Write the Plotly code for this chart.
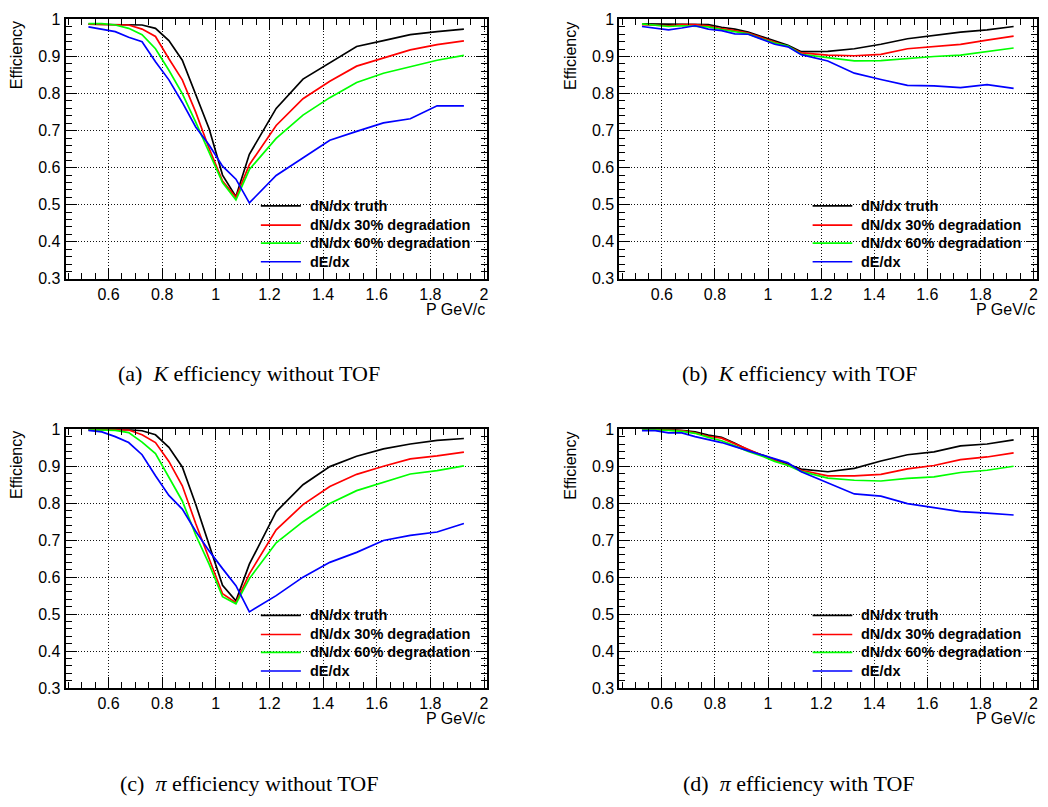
import plotly.graph_objects as go

W, H = 1048, 807

# ---------------- data ----------------
P = [0.525, 0.575, 0.625, 0.675, 0.725, 0.775, 0.825, 0.875, 0.925, 0.975,
     1.025, 1.075, 1.125, 1.225, 1.325, 1.425, 1.525, 1.625, 1.725, 1.825, 1.925]

SERIES_NAMES = ["dN/dx truth", "dN/dx 30% degradation", "dN/dx 60% degradation", "dE/dx"]
SERIES_COLORS = ["#000000", "#ff0000", "#00ff00", "#0000ff"]

K_noTOF_truth = [0.987, 0.987, 0.987, 0.987, 0.985, 0.976, 0.943, 0.890, 0.800, 0.705,
                 0.580, 0.522, 0.636, 0.760, 0.839, 0.882, 0.927, 0.943, 0.959, 0.967, 0.974]
K_noTOF_30 = [0.987, 0.987, 0.986, 0.985, 0.974, 0.954, 0.894, 0.837, 0.750, 0.652,
              0.564, 0.520, 0.608, 0.714, 0.786, 0.833, 0.874, 0.897, 0.918, 0.932, 0.942]
K_noTOF_60 = [0.989, 0.989, 0.985, 0.976, 0.959, 0.921, 0.863, 0.800, 0.723, 0.639,
              0.560, 0.513, 0.595, 0.679, 0.742, 0.789, 0.830, 0.855, 0.872, 0.890, 0.903]
K_noTOF_dEdx = [0.980, 0.974, 0.967, 0.952, 0.940, 0.886, 0.837, 0.776, 0.710, 0.661,
                0.604, 0.569, 0.505, 0.579, 0.626, 0.674, 0.698, 0.721, 0.732, 0.767, 0.767]

K_TOF_truth = [0.988, 0.988, 0.986, 0.988, 0.988, 0.986, 0.979, 0.974, 0.966, 0.954,
               0.940, 0.930, 0.913, 0.914, 0.921, 0.933, 0.948, 0.958, 0.966, 0.972, 0.981]
K_TOF_30 = [0.986, 0.985, 0.983, 0.986, 0.986, 0.983, 0.975, 0.970, 0.963, 0.951,
            0.938, 0.927, 0.910, 0.904, 0.902, 0.906, 0.921, 0.927, 0.933, 0.944, 0.955]
K_TOF_60 = [0.988, 0.985, 0.981, 0.983, 0.982, 0.980, 0.973, 0.966, 0.961, 0.948,
            0.936, 0.928, 0.906, 0.897, 0.888, 0.889, 0.895, 0.900, 0.904, 0.914, 0.923]
K_TOF_dEdx = [0.981, 0.977, 0.972, 0.977, 0.983, 0.974, 0.970, 0.961, 0.960, 0.947,
              0.933, 0.926, 0.905, 0.888, 0.855, 0.838, 0.822, 0.821, 0.816, 0.824, 0.814]

pi_noTOF_truth = [0.999, 0.999, 0.999, 0.999, 0.996, 0.985, 0.951, 0.898, 0.797, 0.687,
                  0.578, 0.536, 0.635, 0.777, 0.850, 0.899, 0.927, 0.947, 0.960, 0.970, 0.975]
pi_noTOF_30 = [0.999, 0.999, 0.999, 0.998, 0.985, 0.964, 0.913, 0.847, 0.745, 0.652,
               0.555, 0.531, 0.609, 0.728, 0.796, 0.845, 0.878, 0.900, 0.920, 0.928, 0.938]
pi_noTOF_60 = [0.999, 0.999, 0.997, 0.991, 0.965, 0.934, 0.868, 0.806, 0.714, 0.635,
               0.547, 0.528, 0.596, 0.693, 0.750, 0.799, 0.834, 0.856, 0.879, 0.888, 0.901]
pi_noTOF_dEdx = [0.997, 0.993, 0.980, 0.964, 0.931, 0.874, 0.821, 0.784, 0.724, 0.671,
                 0.623, 0.577, 0.506, 0.550, 0.600, 0.640, 0.667, 0.699, 0.713, 0.722, 0.745]

pi_TOF_truth = [1.000, 1.000, 1.000, 0.997, 0.993, 0.984, 0.978, 0.962, 0.944, 0.931,
                0.918, 0.905, 0.892, 0.885, 0.894, 0.914, 0.931, 0.939, 0.955, 0.960, 0.971]
pi_TOF_30 = [1.000, 0.999, 0.999, 0.996, 0.990, 0.981, 0.976, 0.960, 0.944, 0.930,
             0.916, 0.902, 0.889, 0.874, 0.874, 0.878, 0.893, 0.902, 0.918, 0.925, 0.936]
pi_TOF_60 = [1.000, 0.999, 0.997, 0.994, 0.989, 0.978, 0.969, 0.955, 0.940, 0.928,
             0.913, 0.902, 0.886, 0.868, 0.862, 0.860, 0.867, 0.871, 0.883, 0.889, 0.900]
pi_TOF_dEdx = [0.996, 0.996, 0.990, 0.990, 0.980, 0.973, 0.964, 0.953, 0.942, 0.931,
               0.922, 0.909, 0.885, 0.856, 0.825, 0.819, 0.799, 0.788, 0.777, 0.773, 0.768]

X_TICKS = [0.6, 0.8, 1.0, 1.2, 1.4, 1.6, 1.8, 2.0]
X_TICK_TEXT = ["0.6", "0.8", "1", "1.2", "1.4", "1.6", "1.8", "2"]
Y_TICKS = [0.3, 0.4, 0.5, 0.6, 0.7, 0.8, 0.9, 1.0]
Y_TICK_TEXT = ["0.3", "0.4", "0.5", "0.6", "0.7", "0.8", "0.9", "1"]

X_TITLE = "P GeV/c"
Y_TITLE = "Efficiency"
CAPTIONS = ["(a)&nbsp; <i>K</i> efficiency without TOF",
            "(b)&nbsp; <i>K</i> efficiency with TOF",
            "(c)&nbsp; <i>π</i> efficiency without TOF",
            "(d)&nbsp; <i>π</i> efficiency with TOF"]

PANELS = [
    [K_noTOF_truth, K_noTOF_30, K_noTOF_60, K_noTOF_dEdx],
    [K_TOF_truth, K_TOF_30, K_TOF_60, K_TOF_dEdx],
    [pi_noTOF_truth, pi_noTOF_30, pi_noTOF_60, pi_noTOF_dEdx],
    [pi_TOF_truth, pi_TOF_30, pi_TOF_60, pi_TOF_dEdx],
]

# ---------------- layout geometry (pixels) ----------------
def px_x(p):
    return p / W


def px_y(p):
    return 1 - p / H


# plot frames: (left, right, top, bottom) in pixels
FRAMES = [
    (65.7, 487.7, 11.7, 276.7),
    (620.0, 1037.7, 11.7, 276.7),
    (65.7, 487.7, 430.3, 694.7),
    (620.0, 1037.7, 430.3, 694.7),
]
CAPTION_POS = [(249, 373), (800, 373), (249, 792), (800, 792)]

SANS = "Liberation Sans, Arial, Helvetica, sans-serif"
SERIF = "Liberation Serif, Times New Roman, serif"

fig = go.Figure()
layout = dict(
    width=W, height=H,
    margin=dict(l=0, r=0, t=0, b=0),
    paper_bgcolor="white", plot_bgcolor="white",
    showlegend=False,
    font=dict(family=SANS, color="black"),
)

annotations = []
shapes = []

for i, (series, frame) in enumerate(zip(PANELS, FRAMES)):
    n = "" if i == 0 else str(i + 1)
    xa, ya = "x" + n, "y" + n
    left, right, top, bottom = frame
    for name, color, vals in zip(SERIES_NAMES, SERIES_COLORS, series):
        fig.add_trace(go.Scatter(x=P, y=vals, mode="lines", name=name,
                                 line=dict(color=color, width=1.7),
                                 xaxis=xa, yaxis=ya, showlegend=False))
    common = dict(
        ticks="inside", tickwidth=1, tickcolor="black", ticklen=11,
        mirror="allticks", showline=True, linecolor="black", linewidth=2,
        showgrid=True, gridcolor="#111111", griddash="1px,2px", gridwidth=1,
        zeroline=False,
        tickfont=dict(family=SANS, size=16, color="black"),
    )
    layout["xaxis" + n] = dict(
        common, domain=[px_x(left), px_x(right)], anchor=ya,
        range=[0.44, 2.012], tickmode="array", tickvals=X_TICKS, ticktext=X_TICK_TEXT,
        minor=dict(ticks="inside", ticklen=6, dtick=0.05, tick0=0, tickcolor="black",
                   showgrid=False),
    )
    layout["yaxis" + n] = dict(
        common, domain=[px_y(bottom), px_y(top)], anchor=xa,
        range=[0.3, 1.0], tickmode="array", tickvals=Y_TICKS, ticktext=Y_TICK_TEXT,
        minor=dict(ticks="inside", ticklen=6, dtick=0.02, tick0=0, tickcolor="black",
                   showgrid=False),
    )

    # axis titles
    annotations.append(dict(
        text=Y_TITLE, xref="paper", yref="paper",
        x=px_x(left - 49), y=px_y(top), xanchor="center", yanchor="top",
        textangle=-90, showarrow=False, font=dict(family=SANS, size=16, color="black")))
    annotations.append(dict(
        text=X_TITLE, xref="paper", yref="paper",
        x=px_x(right), y=px_y(bottom + 31), xanchor="right", yanchor="middle",
        showarrow=False, font=dict(family=SANS, size=16, color="black")))

    # legend (line samples + bold labels), positioned in axis-domain coords
    leg_y = [0.281, 0.207, 0.138, 0.066]
    for name, color, yy in zip(SERIES_NAMES, SERIES_COLORS, leg_y):
        shapes.append(dict(type="line", xref=xa + " domain", yref=ya + " domain",
                           x0=0.463, x1=0.558, y0=yy, y1=yy,
                           line=dict(color=color, width=1.7)))
        annotations.append(dict(
            text=name, xref=xa + " domain", yref=ya + " domain",
            x=0.574, y=yy, xanchor="left", yanchor="middle", showarrow=False,
            font=dict(family=SANS, size=14.5, color="black", weight="bold")))

    # caption
    cx, cy = CAPTION_POS[i]
    annotations.append(dict(
        text=CAPTIONS[i], xref="paper", yref="paper",
        x=px_x(cx), y=px_y(cy), xanchor="center", yanchor="middle",
        showarrow=False, font=dict(family=SERIF, size=22, color="black")))

layout["annotations"] = annotations
layout["shapes"] = shapes
fig.update_layout(**layout)

fig.write_html(
    "out.html",
    config={"displayModeBar": False},
    post_script="document.body.style.margin='0';document.body.style.overflow='hidden';",
)
